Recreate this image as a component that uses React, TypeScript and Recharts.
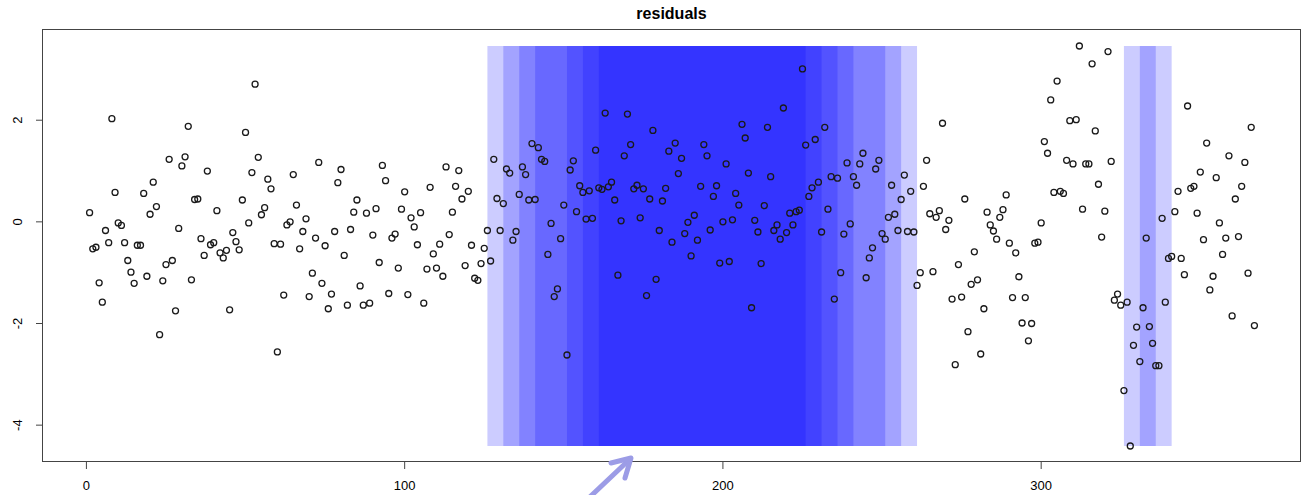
import { ScatterChart, Scatter, XAxis, YAxis, ReferenceArea } from "recharts";

// residuals, one value per observation (index 1..367)
const residuals = [
  0.18, -0.53, -0.5, -1.2, -1.58, -0.17, -0.41, 2.03, 0.58, -0.02,
  -0.07, -0.41, -0.76, -0.99, -1.21, -0.46, -0.46, 0.56, -1.07, 0.15,
  0.78, 0.3, -2.22, -1.16, -0.84, 1.23, -0.76, -1.75, -0.13, 1.1,
  1.28, 1.88, -1.14, 0.44, 0.45, -0.33, -0.66, 1.0, -0.45, -0.41,
  0.22, -0.61, -0.71, -0.56, -1.73, -0.21, -0.39, -0.55, 0.43, 1.76,
  -0.02, 0.97, 2.71, 1.27, 0.14, 0.28, 0.84, 0.65, -0.43, -2.56,
  -0.44, -1.44, -0.06, 0.0, 0.93, 0.33, -0.53, -0.19, 0.06, -1.47,
  -1.01, -0.32, 1.17, -1.21, -0.47, -1.71, -1.42, -0.19, 0.77, 1.03,
  -0.66, -1.64, -0.15, 0.19, 0.43, -1.26, -1.64, 0.17, -1.6, -0.26,
  0.26, -0.8, 1.11, 0.81, -1.41, -0.32, -0.24, -0.91, 0.25, 0.59,
  -1.43, 0.08, -0.1, -0.45, 0.18, -1.6, -0.93, 0.68, -0.63, -0.91,
  -0.44, -1.07, 1.08, -0.25, 0.19, 0.7, 1.01, 0.45, -0.86, 0.6,
  -0.46, -1.11, -1.15, -0.82, -0.52, -0.17, -0.77, 1.23, 0.46, -0.17,
  0.36, 1.04, 0.96, -0.36, -0.19, 0.54, 1.08, 0.93, 0.43, 1.54,
  0.44, 1.46, 1.23, 1.19, -0.64, -0.03, -1.47, -1.32, -0.33, 0.33,
  -2.62, 1.02, 1.2, 0.2, 0.71, 0.58, 0.055, 0.61, 0.07, 1.41,
  0.67, 0.64, 2.14, 0.69, 0.78, 0.43, -1.05, 0.02, 1.3, 2.12,
  1.52, 0.65, 0.72, 0.08, 0.65, -1.45, 0.45, 1.8, -1.13, -0.17,
  0.41, 0.66, 1.39, -0.4, 1.55, 0.95, 1.25, -0.23, -0.01, -0.67,
  0.13, -0.36, 0.7, 1.52, 1.3, -0.16, 0.5, 0.71, -0.81, 0.0,
  1.14, -0.78, 0.04, 0.56, 0.33, 1.92, 1.65, 0.96, -1.69, 0.03,
  -0.2, -0.82, 0.32, 1.86, 0.89, -0.17, -0.06, -0.34, 2.24, -0.21,
  0.17, -0.06, 0.2, 0.23, 3.01, 1.51, 0.5, 0.67, 1.62, 0.78,
  -0.2, 1.86, 0.25, 0.89, -1.52, 0.86, -1.0, -0.24, 1.16, -0.04,
  0.89, 0.72, 1.14, 1.35, -1.1, -0.71, -0.51, 1.04, 1.21, -0.23,
  -0.34, 0.09, 0.72, 0.15, -0.17, 0.44, 0.92, -0.19, 0.6, -0.2,
  -1.25, -1.0, 0.7, 1.21, 0.16, -0.98, 0.09, 0.22, 1.94, -0.15,
  0.03, -1.52, -2.81, -0.84, -1.48, 0.45, -2.16, -1.23, -0.59, -1.14,
  -2.6, -1.71, 0.19, -0.06, -0.18, -0.34, 0.09, 0.24, 0.53, -0.42,
  -1.49, -0.61, -1.08, -1.99, -1.49, -2.34, -2.0, -0.42, -0.4, -0.02,
  1.58, 1.35, 2.4, 0.58, 2.77, 0.6, 0.56, 1.21, 1.99, 1.14,
  2.01, 3.46, 0.25, 1.14, 1.14, 3.11, 1.79, 0.74, -0.3, 0.21,
  3.35, 1.19, -1.54, -1.42, -1.64, -3.32, -1.58, -4.41, -2.43, -2.07,
  -2.75, -1.69, -0.32, -2.06, -2.39, -2.83, -2.83, 0.07, -1.58, -0.72,
  -0.68, 0.2, 0.6, -0.72, -1.04, 2.28, 0.66, 0.7, 0.17, 0.98,
  -0.35, 1.55, -1.34, -1.07, 0.87, -0.02, -0.64, -0.32, 1.3, -1.85,
  0.45, -0.29, 0.7, 1.17, -1.01, 1.86, -2.04,
];

// shaded windows (start, end) — each drawn at 20% blue, they stack up
const bandStarts = [126, 131, 136, 141, 151, 156, 161, 326, 331];
const bandEnds = [261, 256, 251, 241, 236, 231, 226, 341, 336];

const xTicks = [0, 100, 200, 300];
const yTicks = [-4, -2, 0, 2];

const data = residuals.map((v, i) => ({ x: i + 1, y: v }));
const yMin = Math.min(...residuals);
const yMax = Math.max(...residuals);

const font = '"Liberation Sans", Arial, Helvetica, sans-serif';

const YTick = (props: any) => {
  const { x, y, payload } = props;
  const bx = x - 12;
  return (
    <text
      x={bx}
      y={y}
      transform={`rotate(-90 ${bx} ${y})`}
      textAnchor="middle"
      fontSize={13}
      fontFamily={font}
      fill="#000"
    >
      {payload.value}
    </text>
  );
};

const Dot = (props: any) => (
  <circle cx={props.cx} cy={props.cy} r={3} fill="none" stroke="#1a1a1a" strokeWidth={1.3} />
);

export default function App() {
  return (
    <div style={{ position: "absolute", left: 0, top: 0, width: 1303, height: 495, background: "#fff" }}>
      <ScatterChart width={1303} height={495} margin={{ top: 30, right: 2, bottom: 0, left: 0 }}>
        <XAxis
          type="number"
          dataKey="x"
          domain={[-13.64, 381.64]}
          ticks={xTicks}
          allowDataOverflow
          axisLine={false}
          tickLine={{ stroke: "#444" }}
          tickSize={7}
          tickMargin={12}
          height={33}
          tick={{ fontSize: 13, fill: "#000", fontFamily: font }}
        />
        <YAxis
          type="number"
          dataKey="y"
          domain={[-4.725, 3.775]}
          ticks={yTicks}
          allowDataOverflow
          axisLine={false}
          tickLine={{ stroke: "#444" }}
          tickSize={7}
          width={43}
          tick={<YTick />}
        />
        {bandStarts.map((s, i) => (
          <ReferenceArea
            key={i}
            x1={s}
            x2={bandEnds[i]}
            y1={yMin}
            y2={yMax}
            fill="#0000ff"
            fillOpacity={0.2}
            stroke="none"
            ifOverflow="visible"
          />
        ))}
        <Scatter data={data} shape={<Dot />} isAnimationActive={false} />
      </ScatterChart>
      <svg
        width={1303}
        height={495}
        style={{ position: "absolute", left: 0, top: 0, pointerEvents: "none" }}
      >
        <text
          x={671.5}
          y={19}
          textAnchor="middle"
          fontSize={16}
          fontWeight="bold"
          fontFamily={font}
          fill="#000"
        >
          residuals
        </text>
        <rect x={42.5} y={29.5} width={1258} height={432} fill="none" stroke="#444" strokeWidth={1} />
        <g stroke="#9c9ce6" strokeWidth={5} strokeLinecap="round" strokeLinejoin="round" fill="none">
          <line x1={575} y1={511} x2={629} y2={460} />
          <polyline points="611,463 631,458 625,478" />
        </g>
      </svg>
    </div>
  );
}
